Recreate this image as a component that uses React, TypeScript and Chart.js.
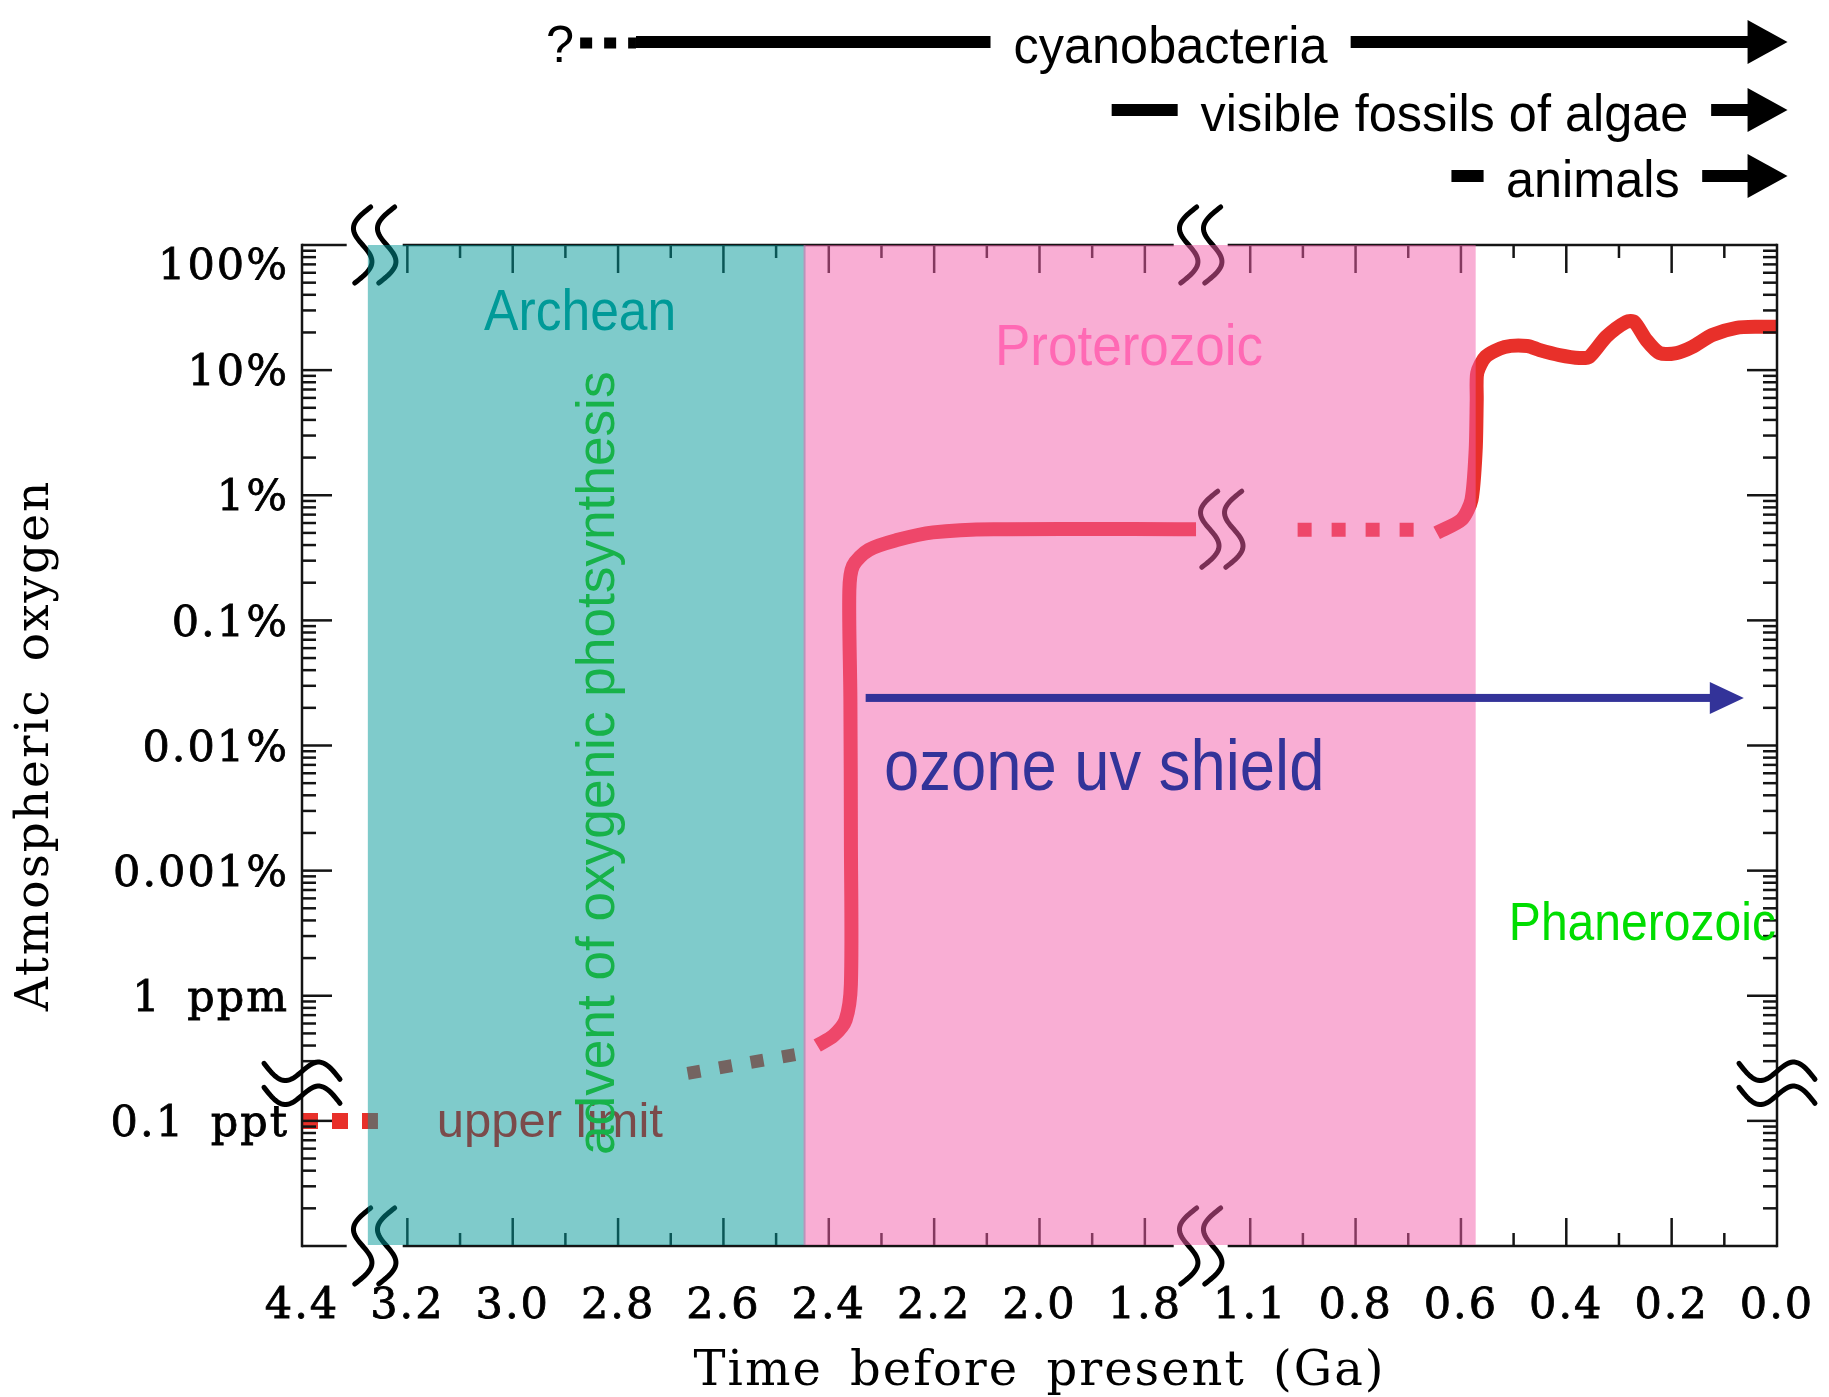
import React, { useEffect, useRef } from "react";
import { Chart, registerables } from "chart.js";

Chart.register(...registerables);

const SERIF = '"DejaVu Serif", "Liberation Serif", serif';
const SANS = '"Liberation Sans", Arial, sans-serif';

// Time axis ticks (broken between 4.4–3.2 Ga and 1.8–1.1 Ga)
const TICK_GA = [4.4, 3.2, 3.0, 2.8, 2.6, 2.4, 2.2, 2.0, 1.8, 1.1, 0.8, 0.6, 0.4, 0.2, 0.0];
// Oxygen axis ticks, one per decade (broken between 0.1 ppt and 1 ppm)
const O2_LABELS = ["0.1 ppt", "1 ppm", "0.001%", "0.01%", "0.1%", "1%", "10%", "100%"];

// Upper limit on the 0.1 ppt line
const UPPER_LIMIT_GA = [4.4, 3.535];
const UPPER_LIMIT_PPT = [0.1, 0.1];

// Late Archean traces (dotted)
const WHIFF_GA = [2.668, 2.461];
const WHIFF_PCT = [2.4e-5, 3.4e-5];

// Great oxidation and the Proterozoic plateau
const GOE_GA = [2.422, 2.391, 2.368, 2.358, 2.358, 2.359, 2.361, 2.354, 2.324, 2.269, 2.202, 2.087, 1.46];
const GOE_PCT = [4.0e-5, 4.8e-5, 6.4e-5, 1.24e-4, 1.73e-3, 0.0238, 0.172, 0.273, 0.366, 0.44, 0.505, 0.535, 0.535];

// Mid Proterozoic (dotted)
const MID_GA = [0.965, 0.655];
const MID_PCT = [0.53, 0.53];

// Neoproterozoic rise and the Phanerozoic
const LATE_GA = [0.646, 0.5985, 0.58, 0.572, 0.57, 0.569, 0.553, 0.517, 0.474, 0.451, 0.413, 0.375, 0.356, 0.324, 0.286, 0.271, 0.248, 0.223, 0.191, 0.161, 0.123, 0.077, 0.033, 0.0];
const LATE_PCT = [0.5, 0.64, 0.92, 2.3, 5.8, 9.5, 12.8, 15.3, 15.6, 14.5, 13.2, 12.5, 12.8, 18.5, 24.3, 24.3, 17.4, 13.7, 13.7, 15.3, 19.1, 21.8, 22.2, 22.2];

// Eons
const ERA_NAMES = ["Archean", "Proterozoic", "Phanerozoic"];
const ERA_START_GA = [3.65, 2.446, 0.572];
const ERA_END_GA = [2.446, 0.572, 0.0];

// Life ranges along the top
const LIFE_NAMES = ["cyanobacteria", "visible fossils of algae", "animals"];
const LIFE_DASH_START_GA = [2.766, 1.863, 0.618];
const LIFE_DASH_END_GA = [2.093, 1.582, 0.557];
const LIFE_ARROW_START_GA = [0.814, 0.125, 0.142];
const LIFE_ARROW_TIP_GA = -0.02;
const CYANO_QUERY_GA = 2.872;

// Ozone shield
const OZONE_START_GA = 2.33;
const OZONE_END_GA = 0.063;
const OZONE_LEVEL_PCT = 0.024;

// Break marks
const X_BREAK_GA = [3.572, 1.429];
const Y_BREAK_POS = 0.3;
const CURVE_BREAK_GA = 1.289;
const CURVE_BREAK_PCT = 0.535;

// piecewise map from Ga to position along the broken time axis
function gaToPos(ga: number): number {
  const n = TICK_GA.length;
  for (let i = 0; i < n - 1; i++) {
    const a = TICK_GA[i];
    const b = TICK_GA[i + 1];
    if ((ga <= a && ga >= b) || (i === 0 && ga > a) || (i === n - 2 && ga < b)) {
      return i + (a - ga) / (a - b);
    }
  }
  return 0;
}
const pctToPos = (p: number) => Math.log10(p) + 5;
const pptToPos = (v: number) => Math.log10(v / 0.1);

const series = (ga: number[], vals: number[], f: (v: number) => number) =>
  ga.map((g, i) => ({ x: gaToPos(g), y: f(vals[i]) }));

function breakStroke(ctx: CanvasRenderingContext2D, cx: number, cy: number, len: number, amp: number, slant: number, vertical: boolean) {
  ctx.beginPath();
  const n = 48;
  for (let i = 0; i <= n; i++) {
    const t = i / n;
    const a = -amp * Math.sin(2 * Math.PI * t) + slant * (1 - 2 * t);
    const b = -len / 2 + len * t;
    const x = vertical ? cx + a : cx + b;
    const y = vertical ? cy + b : cy - a;
    if (i === 0) ctx.moveTo(x, y);
    else ctx.lineTo(x, y);
  }
  ctx.stroke();
}

function breakPair(ctx: CanvasRenderingContext2D, cx: number, cy: number, vertical: boolean) {
  const off = 12;
  if (vertical) {
    breakStroke(ctx, cx - off, cy, 76, 13, 8, true);
    breakStroke(ctx, cx + off, cy, 76, 13, 8, true);
  } else {
    breakStroke(ctx, cx, cy - off, 76, 13, 8, false);
    breakStroke(ctx, cx, cy + off, 76, 13, 8, false);
  }
}

function sansText(ctx: CanvasRenderingContext2D, text: string, x: number, y: number, size: number, sx: number, color: string, align: CanvasTextAlign, rot = 0) {
  ctx.save();
  ctx.translate(x, y);
  if (rot) ctx.rotate(rot);
  ctx.scale(sx, 1);
  ctx.font = `${size}px ${SANS}`;
  ctx.fillStyle = color;
  ctx.textAlign = align;
  ctx.textBaseline = "alphabetic";
  ctx.fillText(text, 0, 0);
  ctx.restore();
}

function arrowBar(ctx: CanvasRenderingContext2D, x0: number, tip: number, y: number, thick: number, headLen: number, headHalf: number, color: string) {
  ctx.fillStyle = color;
  ctx.fillRect(x0, y - thick / 2, tip - headLen - x0 + 1, thick);
  ctx.beginPath();
  ctx.moveTo(tip - headLen, y - headHalf);
  ctx.lineTo(tip, y);
  ctx.lineTo(tip - headLen, y + headHalf);
  ctx.closePath();
  ctx.fill();
}

const decorPlugin = {
  id: "oxygenDecor",
  beforeDraw(chart: any) {
    const c = chart.ctx as any;
    c.letterSpacing = "2px";
    c.wordSpacing = "10px";
  },
  afterDatasetsDraw(chart: any) {
    const ctx: CanvasRenderingContext2D = chart.ctx;
    (ctx as any).letterSpacing = "0px";
    (ctx as any).wordSpacing = "0px";
    const xs = chart.scales.x;
    const ys = chart.scales.y;
    const { left: L, right: R, top: T, bottom: B } = chart.chartArea;
    const px = (ga: number) => xs.getPixelForValue(gaToPos(ga));
    const py = (pos: number) => ys.getPixelForValue(pos);

    ctx.save();
    ctx.strokeStyle = "#141414";
    ctx.lineWidth = 2.5;
    ctx.lineCap = "butt";
    const seg = (x0: number, y0: number, x1: number, y1: number) => {
      ctx.beginPath();
      ctx.moveTo(x0, y0);
      ctx.lineTo(x1, y1);
      ctx.stroke();
    };
    // frame
    seg(L, T - 1.25, L, B + 1.25);
    seg(R, T - 1.25, R, B + 1.25);
    const gapX = X_BREAK_GA.map(px);
    for (const y of [T, B]) {
      seg(L, y, gapX[0] - 28, y);
      seg(gapX[0] + 28, y, gapX[1] - 27, y);
      seg(gapX[1] + 27, y, R, y);
    }
    // time ticks, pointing inwards on bottom and top
    for (let i = 1; i < TICK_GA.length - 1; i++) {
      const x = xs.getPixelForValue(i);
      seg(x, B, x, B - 28);
      seg(x, T, x, T + 28);
    }
    for (let i = 1; i < TICK_GA.length - 1; i++) {
      if (i === 8) continue;
      const x = xs.getPixelForValue(i + 0.5);
      seg(x, B, x, B - 13);
      seg(x, T, x, T + 13);
    }
    // oxygen ticks, decades and log minors on left and right
    for (let d = 0; d < O2_LABELS.length - 1; d++) {
      const y = py(d);
      seg(L, y, L + 30, y);
      seg(R, y, R - 30, y);
    }
    for (let d = -1; d < O2_LABELS.length - 1; d++) {
      for (let m = 2; m <= 9; m++) {
        const p = d + Math.log10(m);
        if (Math.abs(p - Y_BREAK_POS) < 0.05) continue;
        const y = py(p);
        seg(L, y, L + 14, y);
        seg(R, y, R - 14, y);
      }
    }
    // break marks
    ctx.lineWidth = 5;
    ctx.lineCap = "round";
    ctx.strokeStyle = "#000";
    for (const gx of gapX) {
      breakPair(ctx, gx, T, true);
      breakPair(ctx, gx, B, true);
    }
    breakPair(ctx, L, py(Y_BREAK_POS), false);
    breakPair(ctx, R, py(Y_BREAK_POS), false);
    breakPair(ctx, px(CURVE_BREAK_GA), py(pctToPos(CURVE_BREAK_PCT)), true);

    // eon shading laid over the curve and frame
    const a0 = px(ERA_START_GA[0]);
    const a1 = px(ERA_END_GA[0]);
    const p1 = px(ERA_END_GA[1]);
    ctx.fillStyle = "rgba(0,151,151,0.5)";
    ctx.fillRect(a0, T, a1 - a0 + 1, B - T - 1);
    ctx.fillStyle = "rgba(243,93,169,0.5)";
    ctx.fillRect(a1 - 1, T, p1 - a1 + 1, B - T - 1);

    // labels inside the plot
    sansText(ctx, ERA_NAMES[0], px(2.872), py(6.321), 58, 0.89, "#009a98", "center");
    sansText(ctx, ERA_NAMES[1], px(1.83), py(6.041), 57, 0.93, "#ff69b4", "center");
    sansText(ctx, ERA_NAMES[2], px(ERA_END_GA[2]) - 1, py(1.446), 54, 0.89, "#00dd00", "right");
    sansText(ctx, "upper limit", px(3.144), py(-0.129), 49, 1.0, "#7b4b4b", "left");
    sansText(ctx, "advent of oxygenic photsynthesis", px(2.808), py(-0.273), 54, 0.985, "#17b24a", "left", -Math.PI / 2);

    // ozone shield arrow
    const oy = py(pctToPos(OZONE_LEVEL_PCT));
    arrowBar(ctx, px(OZONE_START_GA), px(OZONE_END_GA), oy, 8, 34, 16, "#333399");
    sansText(ctx, "ozone uv shield", px(2.295), py(2.644), 72, 0.88, "#333399", "left");

    // life ranges above the plot
    const rows = [T - 203, T - 135, T - 69];
    for (let i = 0; i < LIFE_NAMES.length; i++) {
      const y = rows[i];
      const xa = px(LIFE_DASH_START_GA[i]);
      const xb = px(LIFE_DASH_END_GA[i]);
      const xc = px(LIFE_ARROW_START_GA[i]);
      const xt = px(LIFE_ARROW_TIP_GA);
      ctx.fillStyle = "#000";
      ctx.fillRect(xa, y - 6, xb - xa, 12);
      arrowBar(ctx, xc, xt, y, 12, 40, 22, "#000");
      sansText(ctx, LIFE_NAMES[i], (xb + xc) / 2, y + 21, 52, 0.97, "#000", "center");
    }
    const q = px(CYANO_QUERY_GA);
    ctx.strokeStyle = "#000";
    ctx.lineWidth = 11;
    ctx.lineCap = "butt";
    ctx.setLineDash([12, 12]);
    seg(q, rows[0] + 1, px(LIFE_DASH_START_GA[0]), rows[0] + 1);
    ctx.setLineDash([]);
    sansText(ctx, "?", q - 6, rows[0] + 20, 52, 0.97, "#000", "right");
    ctx.restore();
  },
};

export default function App() {
  const ref = useRef<HTMLCanvasElement | null>(null);

  useEffect(() => {
    if (!ref.current) return;
    const red = "#e8302a";
    const base = {
      showLine: true,
      pointRadius: 0,
      borderColor: red,
      backgroundColor: red,
      borderCapStyle: "butt" as const,
      borderJoinStyle: "round" as const,
      clip: false as const,
      tension: 0.3,
    };
    const chart = new Chart(ref.current, {
      type: "scatter",
      data: {
        datasets: [
          { ...base, data: series(UPPER_LIMIT_GA, UPPER_LIMIT_PPT, pptToPos), borderWidth: 16, borderDash: [16, 14], tension: 0 },
          { ...base, data: series(WHIFF_GA, WHIFF_PCT, pctToPos), borderWidth: 13, borderDash: [13, 19], tension: 0 },
          { ...base, data: series(GOE_GA, GOE_PCT, pctToPos), borderWidth: 14 },
          { ...base, data: series(MID_GA, MID_PCT, pctToPos), borderWidth: 14, borderDash: [14, 20], tension: 0 },
          { ...base, data: series(LATE_GA, LATE_PCT, pctToPos), borderWidth: 14, tension: 0.25 },
        ],
      },
      options: {
        animation: false,
        responsive: true,
        maintainAspectRatio: false,
        layout: { padding: { left: 0, right: 52, top: 245, bottom: 0 } },
        plugins: { legend: { display: false }, tooltip: { enabled: false } },
        scales: {
          x: {
            type: "linear",
            min: 0,
            max: TICK_GA.length - 1,
            grid: { display: false },
            border: { display: false },
            afterBuildTicks: (s: any) => {
              s.ticks = TICK_GA.map((_, i) => ({ value: i }));
            },
            afterFit: (s: any) => {
              s.height = 151;
              s.paddingLeft = 0;
              s.paddingRight = 0;
            },
            ticks: {
              autoSkip: false,
              maxRotation: 0,
              minRotation: 0,
              padding: 27,
              color: "#000",
              textStrokeColor: "#000",
              textStrokeWidth: 0.8,
              font: { family: SERIF, size: 43 },
              callback: (_v: any, i: number) => TICK_GA[i].toFixed(1),
            },
            title: {
              display: true,
              text: "Time before present (Ga)",
              color: "#000",
              font: { family: SERIF, size: 48 },
              padding: { top: 0, bottom: -4 },
            },
          },
          y: {
            type: "linear",
            min: -1,
            max: O2_LABELS.length - 1,
            grid: { display: false },
            border: { display: false },
            afterBuildTicks: (s: any) => {
              s.ticks = O2_LABELS.map((_, i) => ({ value: i === O2_LABELS.length - 1 ? i - 0.15 : i }));
            },
            afterFit: (s: any) => {
              s.width = 302;
            },
            ticks: {
              autoSkip: false,
              padding: 5,
              labelOffset: 4,
              color: "#000",
              textStrokeColor: "#000",
              textStrokeWidth: 0.8,
              font: { family: SERIF, size: 43 },
              callback: (_v: any, i: number) => O2_LABELS[i],
            },
            title: {
              display: true,
              text: "Atmospheric oxygen",
              color: "#000",
              font: { family: SERIF, size: 47 },
              padding: { top: 8, bottom: 0 },
            },
          },
        },
      },
      plugins: [decorPlugin],
    } as any);
    return () => chart.destroy();
  }, []);

  return (
    <div style={{ position: "fixed", left: 0, top: 0, width: 1829, height: 1397, background: "#fff" }}>
      <canvas ref={ref} />
    </div>
  );
}
